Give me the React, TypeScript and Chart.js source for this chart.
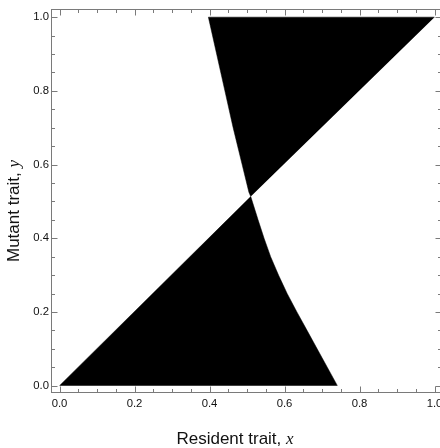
import React, { useEffect, useRef } from "react";
import { Chart, registerables } from "chart.js";

Chart.register(...registerables);

// ---- data ----
const tickValues = [0, 0.2, 0.4, 0.6, 0.8, 1.0];
const minorStep = 0.05;
const diagonalStart = [0, 0];
const diagonalEnd = [1, 1];
const crossPoint = [0.51, 0.513];
const upperCurveX = [0.505, 0.487, 0.463, 0.441, 0.419, 0.397];
const upperCurveY = [0.525, 0.6, 0.7, 0.8, 0.9, 1.0];
const lowerCurveX = [0.5295, 0.5455, 0.563, 0.584, 0.607, 0.633, 0.66, 0.687, 0.714, 0.741];
const lowerCurveY = [0.45, 0.4, 0.35, 0.3, 0.25, 0.2, 0.15, 0.1, 0.05, 0];
const xTitle = "Resident trait, ";
const xTitleVar = "x";
const yTitle = "Mutant trait, ";
const yTitleVar = "y";

const sansFont = "'Liberation Sans', Arial, sans-serif";
const serifFont = "'Liberation Serif', 'Times New Roman', serif";
const frameColor = "#7a7a7a";

const lowerRegion = [
  { x: diagonalStart[0], y: diagonalStart[1] },
  { x: crossPoint[0], y: crossPoint[1] },
  ...lowerCurveX.map((x, i) => ({ x, y: lowerCurveY[i] })),
];
const upperRegion = [
  { x: crossPoint[0], y: crossPoint[1] },
  ...upperCurveX.map((x, i) => ({ x, y: upperCurveY[i] })),
  { x: diagonalEnd[0], y: diagonalEnd[1] },
];

const framePlugin = {
  id: "frameTicks",
  afterDatasetsDraw(chart: any) {
    const { ctx, chartArea: a, scales } = chart;
    const xs = scales.x;
    const ys = scales.y;
    ctx.save();
    ctx.strokeStyle = frameColor;
    ctx.lineWidth = 1;
    const L = Math.round(a.left) - 0.5;
    const R = Math.round(a.right) - 0.5;
    const T = Math.round(a.top) - 0.5;
    const B = Math.round(a.bottom) - 0.5;
    ctx.strokeRect(L, T, R - L, B - T);
    const n = Math.round(1 / minorStep);
    ctx.beginPath();
    for (let i = 0; i <= n; i++) {
      const v = i * minorStep;
      const len = i % 4 === 0 ? 6 : 3.5;
      const px = Math.round(xs.getPixelForValue(v)) + 0.5;
      const py = Math.round(ys.getPixelForValue(v)) + 0.5;
      ctx.moveTo(px, B);
      ctx.lineTo(px, B - len);
      ctx.moveTo(px, T);
      ctx.lineTo(px, T + len);
      ctx.moveTo(L, py);
      ctx.lineTo(L + len, py);
      ctx.moveTo(R, py);
      ctx.lineTo(R - len, py);
    }
    ctx.stroke();
    ctx.restore();
  },
  afterDraw(chart: any) {
    const { ctx, chartArea: a } = chart;
    const size = 17;
    const plainFont = `${size}px ${sansFont}`;
    const italicFont = `italic ${size}px ${serifFont}`;
    ctx.save();
    ctx.fillStyle = "#111";
    ctx.textBaseline = "alphabetic";
    ctx.textAlign = "left";
    ctx.font = plainFont;
    const w1 = ctx.measureText(xTitle).width;
    ctx.font = italicFont;
    const w2 = ctx.measureText(xTitleVar).width;
    const x0 = a.left + 183 - (w1 + w2) / 2;
    const yb = a.bottom + 51;
    ctx.font = plainFont;
    ctx.fillText(xTitle, x0, yb);
    ctx.font = italicFont;
    ctx.fillText(xTitleVar, x0 + w1, yb);
    ctx.restore();
  },
};

export default function App() {
  const ref = useRef<HTMLCanvasElement>(null);
  useEffect(() => {
    document.body.style.margin = "0";
    const tickFont = { family: sansFont, size: 11.3 };
    const chart = new Chart(ref.current as HTMLCanvasElement, {
      type: "scatter",
      data: {
        datasets: [
          { data: lowerRegion, showLine: true, fill: "shape", backgroundColor: "#000", borderColor: "#000", borderWidth: 0.5, pointRadius: 0, tension: 0 },
          { data: upperRegion, showLine: true, fill: "shape", backgroundColor: "#000", borderColor: "#000", borderWidth: 0.5, pointRadius: 0, tension: 0 },
        ],
      } as any,
      options: {
        animation: false,
        responsive: false,
        devicePixelRatio: 1,
        layout: { padding: { top: 5, right: 8, left: 0, bottom: 0 } },
        plugins: { legend: { display: false }, tooltip: { enabled: false } },
        scales: {
          x: {
            type: "linear", min: -0.02, max: 1.02,
            afterBuildTicks: (s: any) => { s.ticks = tickValues.map((v) => ({ value: v })); },
            afterFit: (s: any) => { s.height = 55; },
            ticks: { callback: (v: any) => Number(v).toFixed(1), font: tickFont, color: "#111", padding: 4, maxRotation: 0, autoSkip: false },
            grid: { display: false, drawTicks: false, tickLength: 0 },
            border: { display: false },
          },
          y: {
            type: "linear", min: -0.02, max: 1.02,
            afterBuildTicks: (s: any) => { s.ticks = tickValues.map((v) => ({ value: v })); },
            afterFit: (s: any) => { s.width = 52; },
            ticks: { callback: (v: any) => Number(v).toFixed(1), font: tickFont, color: "#111", padding: 3, autoSkip: false },
            grid: { display: false, drawTicks: false, tickLength: 0 },
            border: { display: false },
          },
        },
      } as any,
      plugins: [framePlugin],
    });
    return () => chart.destroy();
  }, []);
  return (
    <div style={{ width: 440, height: 448, overflow: "hidden", position: "relative" }}>
      <canvas ref={ref} width={450} height={448} style={{ display: "block", width: 450, height: 448 }} />
      <div
        style={{
          position: "absolute",
          left: 13.5,
          top: 211,
          transform: "translate(-50%, -50%) rotate(-90deg)",
          font: `17px ${sansFont}`,
          lineHeight: "20px",
          whiteSpace: "nowrap",
          color: "#111",
        }}
      >
        {yTitle}
        <i style={{ fontFamily: serifFont }}>{yTitleVar}</i>
      </div>
    </div>
  );
}
